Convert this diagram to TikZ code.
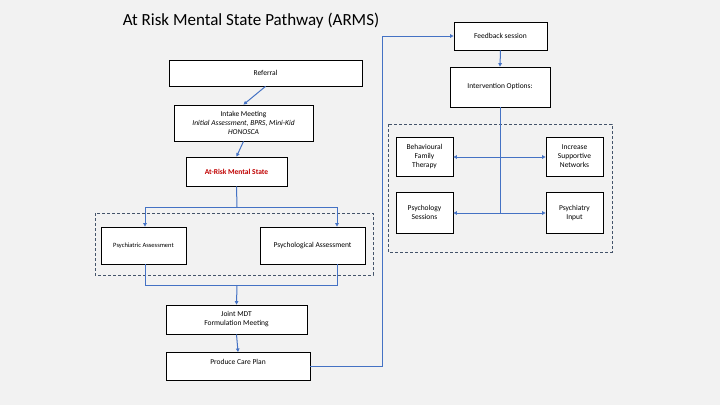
\documentclass[tikz,border=0pt]{standalone}
\usepackage{fontspec}
\setmainfont{Carlito}
\usetikzlibrary{arrows.meta}
\definecolor{ln}{HTML}{4472C4}
\definecolor{bg}{HTML}{F2F2F2}
\definecolor{rd}{HTML}{C00000}
\definecolor{dg}{HTML}{44546A}
\begin{document}
\begin{tikzpicture}[x=1pt,y=-1pt,
 box/.style={draw=black,fill=white,line width=0.8pt,inner sep=0pt,align=center,font=\fontsize{7.5}{9}\selectfont},
 con/.style={draw=ln,line width=1pt},
 arr/.style={con,-{Triangle[length=3.5pt,width=3.5pt]}},
 grp/.style={draw=dg,dash pattern=on 3pt off 2pt,line width=0.6pt}]
\fill[bg] (0,0) rectangle (720,405);
\useasboundingbox (0,0) rectangle (720,405);
\node[font=\fontsize{17}{19}\selectfont] (title) at (251,21) {At Risk Mental State Pathway (ARMS)};
\draw[grp] (95,213) rectangle (373,275);
\draw[grp] (388,124) rectangle (612,252);
\node[box,minimum width=193,minimum height=26] (ref) at (265.5,73) {Referral};
\node[box,minimum width=139,minimum height=36] (int) at (243.5,123) {Intake Meeting\\\textit{Initial Assessment, BPRS, Mini-Kid}\\\textit{HONOSCA}};
\node[box,minimum width=101,minimum height=29,text=rd,font=\fontsize{7.5}{9}\selectfont\bfseries] (arms) at (236.5,171.5) {At-Risk Mental State};
\node[box,minimum width=85,minimum height=37,font=\fontsize{6.5}{8}\selectfont] (psyc) at (143.5,245.5) {Psychiatric Assessment};
\node[box,minimum width=105,minimum height=37] (psyl) at (312.5,245.5) {Psychological Assessment};
\node[box,minimum width=141,minimum height=29] (mdt) at (236.5,319.5) {Joint MDT\\Formulation Meeting};
\node[box,minimum width=144,minimum height=28,anchor=north] (plan) at (238,352) {};
\node[font=\fontsize{7.5}{9}\selectfont] (plant) at (238,362) {Produce Care Plan};
\node[box,minimum width=93,minimum height=28] (fb) at (500.5,36) {Feedback session};
\node[box,minimum width=100,minimum height=40] (io) at (500,87) {Intervention Options:};
\node[box,minimum width=57,minimum height=39] (bft) at (424.5,156.5) {Behavioural\\Family\\Therapy};
\node[box,minimum width=57,minimum height=39] (isn) at (574.5,156.5) {Increase\\Supportive\\Networks};
\node[box,minimum width=57,minimum height=41] (ps) at (424.5,212.5) {Psychology\\Sessions};
\node[box,minimum width=57,minimum height=41] (pi) at (574.5,212.5) {Psychiatry\\Input};
\coordinate (s1) at (237,207);
\coordinate (sl) at (145,207);
\coordinate (sr) at (337,207);
\draw[arr] (ref.south) -- (int.north);
\draw[arr] (int.south) -- (arms.north);
\draw[con] (arms.south) -- (s1);
\draw[con] (sl) -- (sr);
\draw[arr] (sl) -- (psyc.north -| sl);
\draw[arr] (sr) -- (psyl.north -| sr);
\coordinate (j1) at (237,285);
\draw[con] (psyc.south -| sl) |- (j1);
\draw[con] (psyl.south -| sr) |- (j1);
\draw[arr] (j1) -- (mdt.north);
\draw[arr] (mdt.south) -- (plan.north);
\draw[arr] (plan.east |- 0,366) -- (382,366) |- (fb.west);
\draw[arr] (fb.south) -- (io.north);
\coordinate (c1) at (500,157);
\coordinate (c2) at (500,213);
\draw[con] (io.south) -- (c2);
\draw[arr] (c1) -- (bft.east |- c1);
\draw[arr] (c1) -- (isn.west |- c1);
\draw[arr] (c2) -- (ps.east |- c2);
\draw[arr] (c2) -- (pi.west |- c2);
\end{tikzpicture}
\end{document}
